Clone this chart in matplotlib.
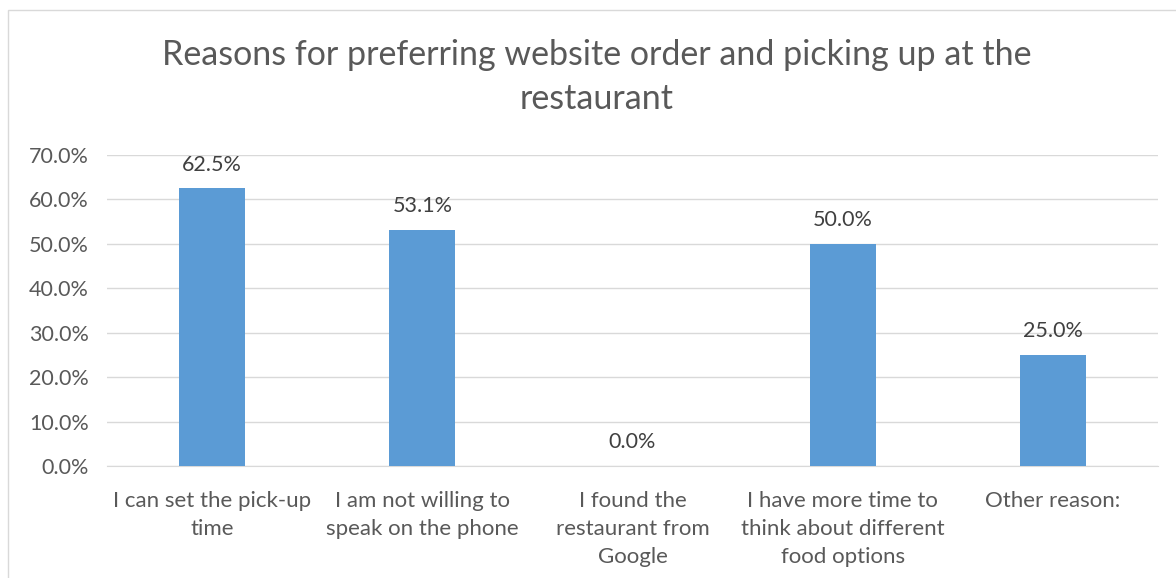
import matplotlib.pyplot as plt
from matplotlib.patches import Rectangle

categories = [
    "I can set the pick-up\ntime",
    "I am not willing to\nspeak on the phone",
    "I found the\nrestaurant from\nGoogle",
    "I have more time to\nthink about different\nfood options",
    "Other reason:",
]
values = [0.625, 0.531, 0.0, 0.50, 0.25]
yticks = [0.0, 0.1, 0.2, 0.3, 0.4, 0.5, 0.6, 0.7]

plt.rcParams['font.family'] = ['Lato', 'DejaVu Sans']
text_color = '#595959'
bar_color = '#5B9BD5'
grid_color = '#D9D9D9'

fig = plt.figure(figsize=(11.76, 5.78), dpi=100)
fig.patches.append(Rectangle((8 / 1176, -0.01), 1.1, 1 - 10 / 578 + 0.01,
                             transform=fig.transFigure, fill=False,
                             edgecolor='#D9D9D9', linewidth=1))

ax = fig.add_axes([107 / 1176, 1 - 466 / 578, (1158 - 107) / 1176, (466 - 155) / 578])
x = range(len(categories))
bars = ax.bar(x, values, width=0.315, color=bar_color, zorder=3)

for xi, v in zip(x, values):
    ax.text(xi, v + 0.031, f"{v * 100:.1f}%", ha='center', va='bottom',
            fontsize=15.5, color='#404040')

ax.set_xlim(-0.5, len(categories) - 0.5)
ax.set_ylim(0, 0.7)
ax.set_yticks(yticks)
ax.set_yticklabels([f"{t * 100:.1f}%" for t in yticks], fontsize=15.5, color=text_color)
ax.set_xticks(list(x))
ax.set_xticklabels(categories, fontsize=16, color=text_color, linespacing=1.5)
ax.tick_params(axis='both', length=0)
ax.tick_params(axis='y', pad=13)
ax.tick_params(axis='x', pad=18)
ax.grid(axis='y', color=grid_color, linewidth=1, zorder=0)
for side in ['top', 'right', 'left']:
    ax.spines[side].set_visible(False)
ax.spines['bottom'].set_color(grid_color)

fig.text(597 / 1176, 1 - 77 / 578,
         "Reasons for preferring website order and picking up at the\nrestaurant",
         ha='center', va='center', fontsize=24.5, color=text_color, linespacing=1.43)

fig.savefig('out.png', dpi=100)
